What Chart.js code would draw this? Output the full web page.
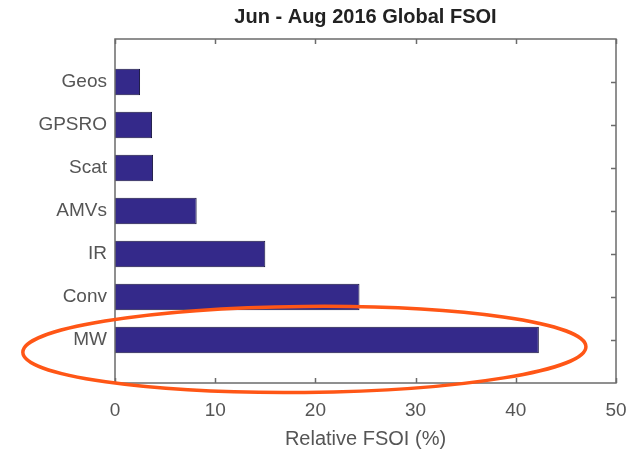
<!DOCTYPE html>
<html>
<head>
<meta charset="utf-8">
<script src="https://cdn.jsdelivr.net/npm/chart.js@4/dist/chart.umd.min.js"></script>
<style>
  html,body{margin:0;padding:0;background:#fff;}
  #wrap{width:641px;height:451px;}
</style>
</head>
<body>
<div id="wrap"><canvas id="fsoi" width="641" height="451"></canvas></div>
<script>
// bottom to top, as barh draws them
const categories = ['MW','Conv','IR','AMVs','Scat','GPSRO','Geos'];
const fsoiValues = [42.3, 24.4, 15.0, 8.15, 3.8, 3.7, 2.5];
const xTicks = [0,10,20,30,40,50];
const chartTitle = 'Jun - Aug 2016 Global FSOI';
// red ring round the MW bar, in data units
const highlight = {x: 18.9, y: 0.78, rx: 28.1, ry: 1.0};

const FONT = '"Liberation Sans", Arial, Helvetica, sans-serif';

const boxPlugin = {
  id: 'matlabBox',
  afterDatasetsDraw(chart){
    const ctx = chart.ctx, a = chart.chartArea;
    const xs = chart.scales.x, ys = chart.scales.y;
    ctx.save();
    ctx.strokeStyle = '#6b6b6b';
    ctx.lineWidth = 1.5;
    ctx.strokeRect(a.left, a.top, a.right-a.left, a.bottom-a.top);
    ctx.beginPath();
    xTicks.forEach(v=>{
      const px = Math.round(xs.getPixelForValue(v))+0.5;
      ctx.moveTo(px, a.bottom); ctx.lineTo(px, a.bottom-5);
      ctx.moveTo(px, a.top); ctx.lineTo(px, a.top+5);
    });
    categories.forEach((c,i)=>{
      const py = Math.round(ys.getPixelForValue(i+1))+0.5;
      ctx.moveTo(a.right, py); ctx.lineTo(a.right-5, py);
    });
    ctx.stroke();
    // title, centred over the axes box like MATLAB does
    ctx.fillStyle = '#222';
    ctx.font = 'bold 20px ' + FONT;
    ctx.textAlign = 'center';
    ctx.textBaseline = 'middle';
    ctx.fillText(chartTitle, (a.left+a.right)/2, 17);
    ctx.restore();
  },
  afterDraw(chart){
    const ctx = chart.ctx;
    const xs = chart.scales.x, ys = chart.scales.y;
    const cx = xs.getPixelForValue(highlight.x);
    const cy = ys.getPixelForValue(highlight.y);
    const rx = xs.getPixelForValue(highlight.x+highlight.rx) - cx;
    const ry = Math.abs(ys.getPixelForValue(highlight.y+highlight.ry) - cy);
    ctx.save();
    ctx.strokeStyle = '#ff5616';
    ctx.lineWidth = 3.5;
    ctx.beginPath();
    ctx.ellipse(cx, cy, rx, ry, -0.01, 0, Math.PI*2);
    ctx.stroke();
    ctx.restore();
  }
};

new Chart(document.getElementById('fsoi'), {
  type: 'bar',
  data: {
    datasets: [{
      data: fsoiValues.map((v,i)=>({x: v, y: i+1})),
      backgroundColor: '#34298a',
      borderColor: '#16133d',
      borderWidth: 1,
      barPercentage: 0.62,
      categoryPercentage: 1
    }]
  },
  options: {
    indexAxis: 'y',
    responsive: false,
    animation: false,
    layout: {padding: {left: 0, right: 25, top: 39, bottom: 0}},
    plugins: {
      legend: {display: false},
      tooltip: {enabled: false},
      title: {display: false}
    },
    scales: {
      x: {
        type: 'linear',
        min: 0, max: 50,
        afterBuildTicks(s){ s.ticks = xTicks.map(v=>({value: v})); },
        ticks: {color: '#555', font: {family: FONT, size: 19}, padding: 8},
        grid: {display: false},
        border: {display: false},
        title: {
          display: true,
          text: 'Relative FSOI (%)',
          color: '#555',
          font: {family: FONT, size: 20},
          padding: {top: 12, bottom: 0}
        },
        afterFit(s){ s.height = 68; }
      },
      y: {
        type: 'linear',
        min: 0, max: 8,
        offset: false,
        afterBuildTicks(s){ s.ticks = categories.map((c,i)=>({value: i+1})); },
        ticks: {
          color: '#555',
          font: {family: FONT, size: 19},
          padding: 0,
          callback: v => categories[v-1] || ''
        },
        grid: {display: false},
        border: {display: false},
        afterFit(s){ s.width = 115; }
      }
    }
  },
  plugins: [boxPlugin]
});
</script>
</body>
</html>
